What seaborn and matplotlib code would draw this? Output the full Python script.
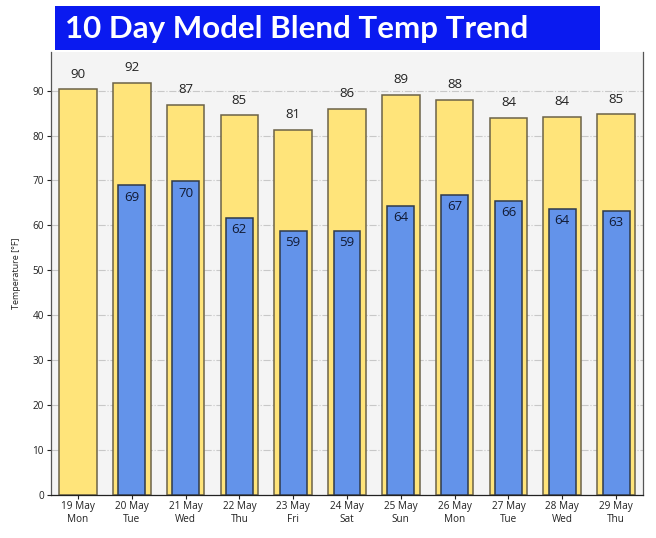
import numpy as np
import pandas as pd
import seaborn as sns
import matplotlib.pyplot as plt
from matplotlib.patches import Rectangle

days = ['19 May\nMon', '20 May\nTue', '21 May\nWed', '22 May\nThu', '23 May\nFri',
        '24 May\nSat', '25 May\nSun', '26 May\nMon', '27 May\nTue', '28 May\nWed',
        '29 May\nThu']
highs = [90.4, 91.8, 86.9, 84.6, 81.3, 86.0, 89.1, 88.0, 84.0, 84.2, 84.8]
lows = [np.nan, 69.0, 69.9, 61.7, 58.8, 58.8, 64.4, 66.8, 65.5, 63.7, 63.3]

df = pd.DataFrame({'day': days, 'high': highs, 'low': lows})

sns.set_theme(style='white')
plt.rcParams['font.family'] = ['Open Sans', 'DejaVu Sans']

fig = plt.figure(figsize=(6.56, 5.38), dpi=100)
ax = fig.add_axes([51 / 656, 1 - 495 / 538, 592 / 656, 443 / 538])
ax.set_facecolor('#f4f4f4')

sns.barplot(data=df, x='day', y='high', order=days, color='#ffe47a', width=0.7,
            edgecolor='#6b6248', linewidth=1.1, saturation=1, ax=ax, zorder=2)
sns.barplot(data=df.dropna(), x='day', y='low', order=days, color='#6393ea', width=0.5,
            edgecolor='#2f3a4a', linewidth=1.1, saturation=1, ax=ax, zorder=3)

for i, (h, l) in enumerate(zip(highs, lows)):
    ax.annotate(f'{round(h)}', (i, h), xytext=(0, 6), textcoords='offset points',
                ha='center', va='bottom', fontsize=9.5, color='#222222', zorder=4)
    if not np.isnan(l):
        ax.annotate(f'{round(l)}', (i, l), xytext=(0, -4), textcoords='offset points',
                    ha='center', va='top', fontsize=9.5, color='#111a33', zorder=4)

ax.set_xlim(-0.5, 10.5)
ax.set_ylim(0, 98.6)
ax.set_yticks(range(0, 100, 10))
ax.yaxis.grid(True, color='#c8c8c8', linestyle='-.', linewidth=0.8, zorder=0)
ax.set_axisbelow(True)
ax.tick_params(axis='both', labelsize=7.2, colors='#222222', length=3, width=0.8,
               left=True, bottom=True, direction='out', pad=2)
ax.tick_params(axis='x', pad=1.5)
ax.set_xlabel('')
ax.set_ylabel('Temperature [°F]', fontsize=6.5, color='#222222', labelpad=8)

for side in ['left', 'bottom', 'right']:
    ax.spines[side].set_visible(True)
    ax.spines[side].set_color('#555555')
    ax.spines[side].set_linewidth(0.9)
ax.spines['bottom'].set_color('#222222')
ax.spines['top'].set_visible(False)

# title banner
fig.patches.append(Rectangle((55 / 656, 1 - 50 / 538), 545 / 656, 44 / 538,
                             transform=fig.transFigure, facecolor='#0a1af0',
                             edgecolor='none', zorder=5))
fig.text(65 / 656, 1 - 29 / 538, '10 Day Model Blend Temp Trend', color='white',
         fontsize=22.5, fontweight='bold', family=['Lato', 'DejaVu Sans'],
         ha='left', va='center', zorder=6)

fig.savefig('out.png', dpi=100)
